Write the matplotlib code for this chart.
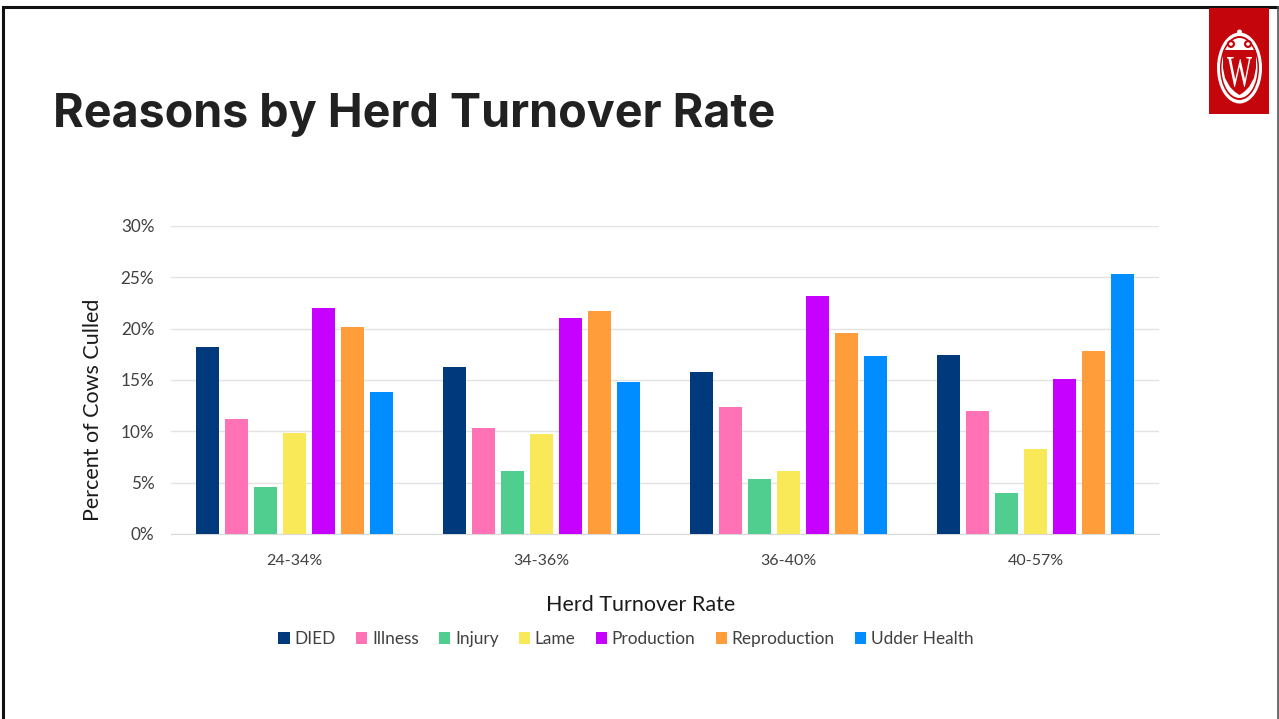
import numpy as np
import matplotlib
matplotlib.use("Agg")
import matplotlib.pyplot as plt
from matplotlib.patches import Ellipse, Rectangle, Circle, Polygon, PathPatch
from matplotlib.textpath import TextPath
from matplotlib.font_manager import FontProperties
from matplotlib.transforms import Affine2D

plt.rcParams['font.family'] = ['Lato', 'DejaVu Sans']

groups = ['24-34%', '34-36%', '36-40%', '40-57%']
reasons = ['DIED', 'Illness', 'Injury', 'Lame', 'Production', 'Reproduction', 'Udder Health']
colors = ['#003A7D', '#FF73B6', '#4FCE8F', '#F9E858', '#C701FF', '#FF9D3A', '#008DFF']

died = [18.2, 16.3, 15.8, 17.4]
illness = [11.2, 10.3, 12.4, 12.0]
injury = [4.6, 6.1, 5.4, 4.0]
lame = [9.8, 9.7, 6.1, 8.3]
production = [22.0, 21.0, 23.2, 15.1]
reproduction = [20.2, 21.7, 19.6, 17.8]
udder = [13.8, 14.8, 17.3, 25.3]
series = [died, illness, injury, lame, production, reproduction, udder]

W, H = 1279, 719
fig = plt.figure(figsize=(W / 100, H / 100), dpi=100)

# slide furniture in pixel coordinates
bg = fig.add_axes([0, 0, 1, 1])
bg.set_xlim(0, W)
bg.set_ylim(H, 0)
bg.axis('off')
bg.plot([3, 3, 1278], [H, 7, 7], color='#111111', lw=2.2, solid_joinstyle='miter')
bg.plot([1278, 1278], [7, H], color='#555555', lw=1.2)
bg.text(53, 127, 'Reasons by Herd Turnover Rate', fontsize=33.6, fontweight='bold',
        family='Inter', color='#212121', va='baseline', ha='left')
bg.text(641, 605, 'Herd Turnover Rate', fontsize=15.5, color='#1A1A1A', ha='center', va='center')
bg.text(93, 410, 'Percent of Cows Culled', fontsize=15.5, color='#1A1A1A', rotation=90,
        ha='center', va='center')

# crest
bg.add_patch(Rectangle((1209, 8), 60, 106, color='#C5050C', lw=0, zorder=2))
bg.add_patch(Ellipse((1239.5, 68), 45, 71, fc='white', ec='none', zorder=3))
bg.add_patch(Ellipse((1239.5, 68), 39, 64, fc='#C5050C', ec='none', zorder=4))
bg.add_patch(Ellipse((1239.5, 68), 36, 60, fc='white', ec='none', zorder=5))
shield = [[1223, 50], [1256, 50], [1256, 68], [1254, 78], [1249, 87], [1244, 92], [1239.5, 95],
          [1235, 92], [1230, 87], [1225, 78], [1223, 68]]
bg.add_patch(Polygon(shield, fc='#C5050C', ec='none', zorder=6))
bg.add_patch(Circle((1239.5, 32), 2.5, fc='white', ec='none', zorder=6))
for cx in [1231, 1248]:
    bg.add_patch(Circle((cx, 44), 4, fc='#C5050C', ec='none', zorder=6))
    bg.add_patch(Circle((cx, 44), 1.8, fc='white', ec='none', zorder=7))
tp = TextPath((0, 0), 'W', size=20, prop=FontProperties(family='Liberation Serif'))
bb = tp.get_extents()
tr = (Affine2D().translate(-bb.x0, -bb.y0).scale(25 / bb.width, -30 / bb.height)
      .translate(1227, 87) + bg.transData)
bg.add_patch(PathPatch(tp, fc='white', ec='none', transform=tr, zorder=8))

# chart
ax = fig.add_axes([171 / W, 1 - 534 / H, (1159 - 171) / W, (534 - 226) / H])
ax.patch.set_alpha(0)
x = np.arange(len(groups))
step = 29.05 / 247
width = 23 / 247
for i, (vals, c, name) in enumerate(zip(series, colors, reasons)):
    ax.bar(x + (i - 3) * step, vals, width, color=c, label=name, zorder=3)

ax.set_xlim(-0.5, 3.5)
ax.set_ylim(0, 30)
ax.set_yticks(range(0, 31, 5))
ax.set_yticklabels([f'{v}%' for v in range(0, 31, 5)])
ax.set_xticks(x)
ax.set_xticklabels(groups)
ax.tick_params(axis='x', length=0, labelsize=11.5, labelcolor='#404040', pad=14.5)
ax.tick_params(axis='y', length=0, labelsize=12.3, labelcolor='#404040', pad=12)
ax.grid(axis='y', color='#E3E3E3', lw=1, zorder=0)
for s in ['top', 'left', 'right']:
    ax.spines[s].set_visible(False)
ax.spines['bottom'].set_color('#D9D9D9')

ax.legend(loc='center', bbox_to_anchor=(626 / W, 1 - 639 / H), bbox_transform=fig.transFigure,
          ncol=7, frameon=False, fontsize=12.4, handlelength=0.64, handleheight=0.64,
          handletextpad=0.29, columnspacing=1.17, labelcolor='#404040', borderpad=0)

fig.savefig('out.png', dpi=100)
